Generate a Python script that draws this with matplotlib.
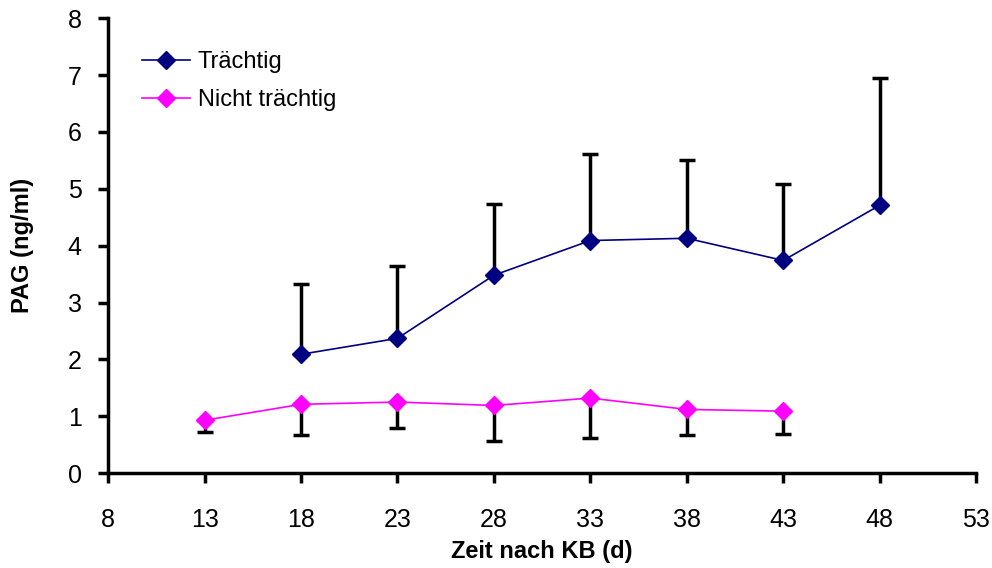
import matplotlib
matplotlib.use("Agg")
import matplotlib.pyplot as plt

plt.rcParams['font.family'] = ['Liberation Sans', 'DejaVu Sans']

# PAG-Konzentration nach KB
tage_tr = [18, 23, 28, 33, 38, 43, 48]
pag_tr = [2.09, 2.37, 3.48, 4.09, 4.13, 3.74, 4.71]
sd_tr = [1.23, 1.27, 1.25, 1.52, 1.37, 1.34, 2.23]

tage_ntr = [13, 18, 23, 28, 33, 38, 43]
pag_ntr = [0.93, 1.21, 1.25, 1.19, 1.32, 1.12, 1.09]
sd_ntr = [0.21, 0.54, 0.46, 0.63, 0.70, 0.45, 0.40]

x_ticks = [8, 13, 18, 23, 28, 33, 38, 43, 48, 53]
y_ticks = [0, 1, 2, 3, 4, 5, 6, 7, 8]

fig = plt.figure(figsize=(9.92, 5.68), dpi=100)
ax = fig.add_axes([0.109, 0.167, 0.875, 0.801])

# Fehlerbalken nur einseitig: oben fuer trächtig, unten fuer nicht trächtig
ax.errorbar(tage_tr, pag_tr, yerr=[[0] * len(sd_tr), sd_tr], fmt='none',
            ecolor='black', elinewidth=2.5, capsize=6, capthick=2.5, zorder=2)
ax.errorbar(tage_ntr, pag_ntr, yerr=[sd_ntr, [0] * len(sd_ntr)], fmt='none',
            ecolor='black', elinewidth=2.5, capsize=6, capthick=2.5, zorder=2)

ax.plot(tage_tr, pag_tr, color='#000080', marker='D', markersize=9,
        linewidth=1.2, label='Trächtig', zorder=3)
ax.plot(tage_ntr, pag_ntr, color='#FF00FF', marker='D', markersize=9,
        linewidth=1.2, label='Nicht trächtig', zorder=3)

ax.set_xlim(8, 53)
ax.set_ylim(0, 8)
ax.set_xticks(x_ticks)
ax.set_yticks(y_ticks)
ax.tick_params(axis='x', direction='out', length=7, width=2.5,
               labelsize=18, pad=18)
ax.tick_params(axis='y', direction='out', length=7, width=2.5,
               labelsize=18, pad=12)

for side in ['top', 'right']:
    ax.spines[side].set_visible(False)
for side in ['left', 'bottom']:
    ax.spines[side].set_linewidth(2.5)

ax.set_xlabel('Zeit nach KB (d)', fontsize=17, fontweight='bold', labelpad=6)
ax.set_ylabel('PAG (ng/ml)', fontsize=17, fontweight='bold', labelpad=24)

ax.legend(loc='upper left', bbox_to_anchor=(0.015, 0.975), frameon=False,
          fontsize=17, handlelength=2.0, handletextpad=0.35, labelspacing=0.7)

plt.savefig('out.png', dpi=100)
